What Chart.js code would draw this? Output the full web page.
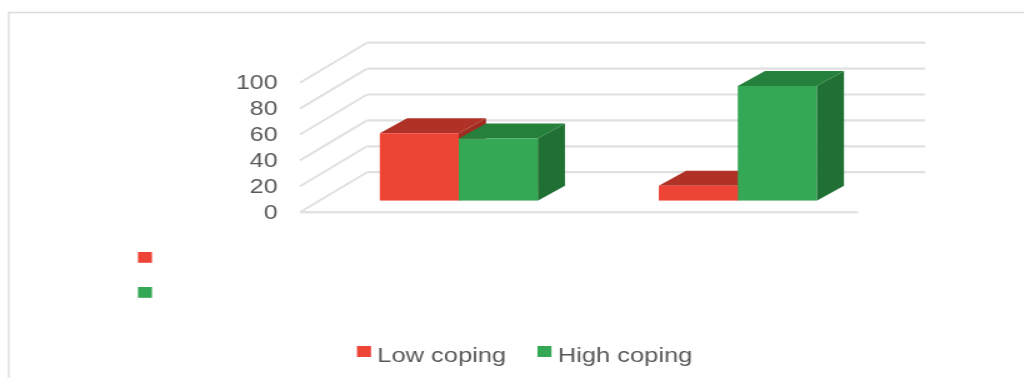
<!DOCTYPE html>
<html>
<head>
<meta charset="utf-8">
<script src="https://cdn.jsdelivr.net/npm/chart.js@4/dist/chart.umd.min.js"></script>
<style>
  html, body { margin: 0; padding: 0; background: #ffffff; overflow: hidden; }
  /* the drawing is made at 820px and widened to 1024px */
  #wrap { width: 820px; height: 378px; transform: scaleX(1.25); transform-origin: 0 0; }
  canvas { display: block; }
</style>
</head>
<body>
<div id="wrap"><canvas id="chart" width="820" height="378"></canvas></div>
<script>
// Chart data
const categories = ['', ''];
const seriesNames = ['Low coping', 'High coping'];
const lowCoping = [52, 11.5];
const highCoping = [48, 88.5];
const yTicks = [0, 20, 40, 60, 80, 100];

// Face colours for each series: front, top, side
const faceColors = [
  { front: '#EE4436', top: '#B03226', side: '#9E2C21' },
  { front: '#34A854', top: '#25803C', side: '#207034' }
];

// 3D offsets relative to the plane of the bar fronts
const FRONT = { dx: -15.4, dy: 11.5 };   // front edge of floor / side wall
const BACK = { dx: 38.2, dy: -28.5 };    // back wall
const DEPTH = { dx: 21.8, dy: -15 };     // thickness of each column
const GRID = '#e0e0e0';
const TEXT = '#595959';

function line(ctx, x1, y1, x2, y2, w, c) {
  ctx.beginPath();
  ctx.moveTo(x1, y1);
  ctx.lineTo(x2, y2);
  ctx.lineWidth = w;
  ctx.strokeStyle = c;
  ctx.stroke();
}

function poly(ctx, pts, c) {
  ctx.beginPath();
  ctx.moveTo(pts[0][0], pts[0][1]);
  for (let i = 1; i < pts.length; i++) ctx.lineTo(pts[i][0], pts[i][1]);
  ctx.closePath();
  ctx.fillStyle = c;
  ctx.fill();
}

// Walls, floor, value labels, frame and legends
const wallsPlugin = {
  id: 'walls',
  beforeDraw(chart) {
    const ctx = chart.ctx;
    const area = chart.chartArea;
    const y = chart.scales.y;
    ctx.save();

    // outer frame
    line(ctx, 7, 378, 7, 12.5, 1.2, '#d9d9d9');
    line(ctx, 6.4, 12.5, 820, 12.5, 1.5, '#dcdcdc');

    const fl = area.left + FRONT.dx, fr = area.right + FRONT.dx;
    const bl = area.left + BACK.dx, br = area.right + BACK.dx;

    yTicks.forEach(v => {
      const py = y.getPixelForValue(v);
      // back wall line
      line(ctx, bl, py + BACK.dy, br, py + BACK.dy, 2.2, GRID);
      // side wall line
      line(ctx, fl, py + FRONT.dy, bl, py + BACK.dy, 2, GRID);
    });
    // front edge of the floor
    const p0 = y.getPixelForValue(0) + FRONT.dy;
    line(ctx, fl, p0, fr, p0, 2.6, '#e2e2e2');

    // value labels
    ctx.font = '20px "Liberation Sans", Arial, sans-serif';
    ctx.fillStyle = TEXT;
    ctx.textAlign = 'right';
    ctx.textBaseline = 'middle';
    yTicks.forEach(v => {
      ctx.fillText(String(v), 222, y.getPixelForValue(v) + FRONT.dy + 1);
    });

    // key swatches on the left
    chart.data.datasets.forEach((ds, i) => {
      ctx.fillStyle = ds.backgroundColor;
      ctx.fillRect(110.4, 252 + i * 35, 11.2, 10.8);
    });

    // legend below the chart
    const legendX = [285.6, 430];
    ctx.font = '20.4px "Liberation Sans", Arial, sans-serif';
    ctx.textAlign = 'left';
    ctx.textBaseline = 'alphabetic';
    chart.data.datasets.forEach((ds, i) => {
      ctx.fillStyle = ds.backgroundColor;
      ctx.fillRect(legendX[i], 346, 11.2, 11);
      ctx.fillStyle = TEXT;
      ctx.fillText(ds.label, legendX[i] + 16.2, 361.6);
    });
    ctx.restore();
  },
  // sides and tops of the columns, drawn before the front faces
  beforeDatasetsDraw(chart) {
    const ctx = chart.ctx;
    ctx.save();
    categories.forEach((_, i) => {
      chart.data.datasets.forEach((ds, d) => {
        const bar = chart.getDatasetMeta(d).data[i];
        const p = bar.getProps(['x', 'y', 'base', 'width'], true);
        const l = p.x - p.width / 2, r = p.x + p.width / 2;
        const t = p.y, b = p.base;
        const c = faceColors[d];
        poly(ctx, [[r, t], [r + DEPTH.dx, t + DEPTH.dy], [r + DEPTH.dx, b + DEPTH.dy], [r, b]], c.side);
        poly(ctx, [[l, t], [l + DEPTH.dx, t + DEPTH.dy], [r + DEPTH.dx, t + DEPTH.dy], [r, t]], c.top);
      });
    });
    ctx.restore();
  }
};

new Chart(document.getElementById('chart'), {
  type: 'bar',
  data: {
    labels: categories,
    datasets: [
      { label: seriesNames[0], data: lowCoping, backgroundColor: faceColors[0].front },
      { label: seriesNames[1], data: highCoping, backgroundColor: faceColors[1].front }
    ]
  },
  options: {
    responsive: false,
    devicePixelRatio: 1,
    animation: false,
    layout: { padding: { left: 255.4, right: 118.2, top: 71.2, bottom: 177.3 } },
    datasets: { bar: { barPercentage: 1, categoryPercentage: 0.566, borderWidth: 0 } },
    scales: {
      x: { display: false },
      y: { display: false, min: 0, max: 100 }
    },
    plugins: { legend: { display: false }, tooltip: { enabled: false } }
  },
  plugins: [wallsPlugin]
});
</script>
</body>
</html>
